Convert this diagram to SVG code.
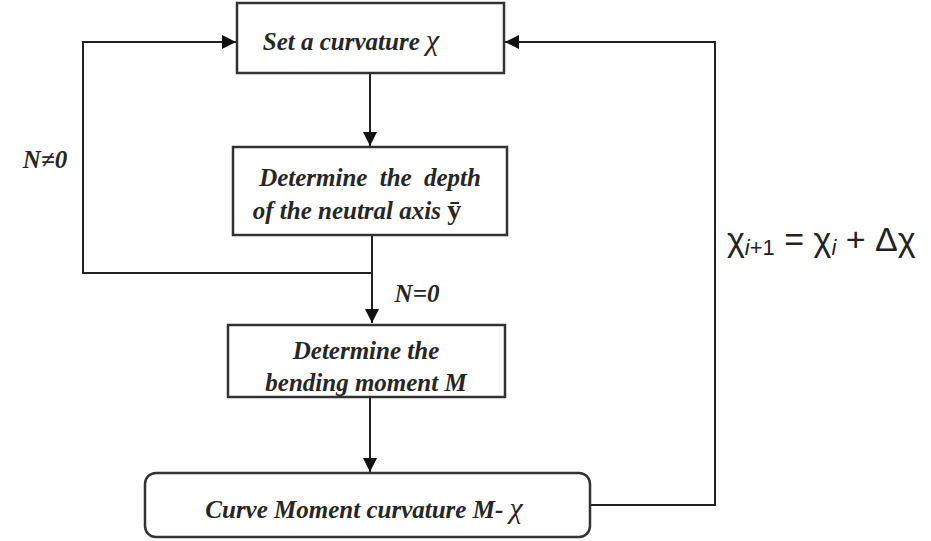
<svg xmlns="http://www.w3.org/2000/svg" width="931" height="541" viewBox="0 0 931 541">
<style>
.box{fill:#fff;stroke:#333;stroke-width:2.5}
.t{font-family:"Liberation Serif",serif;font-style:italic;font-weight:bold;font-size:25px;fill:#262626;text-anchor:middle}
.c{fill:none;stroke:#222;stroke-width:2}
.f{font-family:"Liberation Sans",sans-serif;font-size:34px;fill:#222}
</style>
<defs>
<marker id="ah" viewBox="0 0 14 14" refX="14" refY="7" markerWidth="14" markerHeight="14" markerUnits="userSpaceOnUse" orient="auto">
<path d="M0,0 L14,7 L0,14 Z" fill="#111"/>
</marker>
</defs>
<g id="connectors">
<line class="c" x1="370" y1="73" x2="370" y2="146" marker-end="url(#ah)"/>
<line class="c" x1="372" y1="235" x2="372" y2="323" marker-end="url(#ah)"/>
<polyline class="c" points="372,273 83,273 83,42 236,42" marker-end="url(#ah)"/>
<line class="c" x1="370" y1="397" x2="370" y2="472" marker-end="url(#ah)"/>
<polyline class="c" points="590,505 715,505 715,42 505,42" marker-end="url(#ah)"/>
</g>
<g id="n1"><rect class="box" x="237" y="3" width="267" height="70"/>
<text class="t" x="351" y="50">Set a curvature  <tspan font-size="30" font-weight="normal">χ</tspan></text></g>
<g id="n2"><rect class="box" x="233" y="147" width="274" height="88"/>
<text class="t" x="370" y="186" word-spacing="6">Determine the depth</text>
<text class="t" x="357" y="219">of the neutral axis <tspan font-style="normal" font-size="28">ȳ</tspan></text></g>
<g id="n3"><rect class="box" x="228" y="325" width="277" height="72"/>
<text class="t" x="366" y="359">Determine the</text>
<text class="t" x="366" y="391">bending moment M</text></g>
<g id="n4"><rect class="box" x="145" y="473" width="445" height="64" rx="11"/>
<text class="t" x="364" y="518">Curve Moment curvature M- <tspan font-size="30" font-weight="normal">χ</tspan></text></g>
<g id="labels">
<text class="t" x="45" y="168" font-size="26">N≠0</text>
<text class="t" x="417" y="302" font-size="26">N=0</text>
<text class="f" x="727" y="251">χ<tspan font-size="22" font-style="italic" dy="4">i</tspan><tspan font-size="22" dy="0">+1</tspan><tspan dy="-4"> = χ</tspan><tspan font-size="22" font-style="italic" dy="4">i</tspan><tspan dy="-4"> + Δχ</tspan></text>
</g>
</svg>
